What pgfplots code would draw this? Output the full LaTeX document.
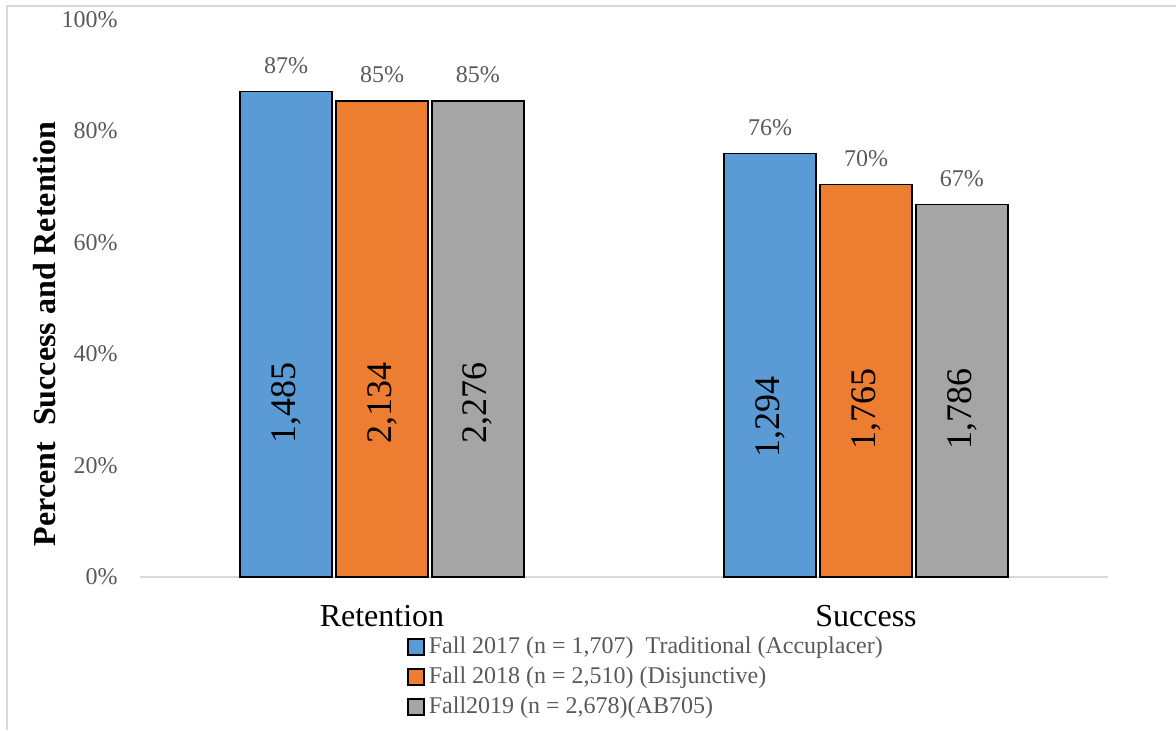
\documentclass[border=0pt]{standalone}
\usepackage{fontspec}
\setmainfont{Liberation Serif}
\usepackage{pgfplots}
\pgfplotsset{compat=1.18}
\definecolor{cblue}{HTML}{5B9BD5}
\definecolor{corange}{HTML}{ED7D31}
\definecolor{cgray}{HTML}{A5A5A5}
\definecolor{txtgray}{HTML}{595959}
\definecolor{linegray}{HTML}{D9D9D9}
\begin{document}
\begin{tikzpicture}
\path[use as bounding box] (0,0) rectangle (588pt,365pt);
\draw[linegray, line width=1pt] (3.3pt,0) -- (3.3pt,362pt) -- (588pt,362pt);
\begin{axis}[
  at={(70pt,76.5pt)}, anchor=south west,
  scale only axis, width=484pt, height=278.75pt,
  xmin=-0.5, xmax=1.5, ymin=0, ymax=100,
  axis x line=bottom, axis y line=left,
  x axis line style={linegray, line width=1pt, -},
  y axis line style={draw=none},
  xtick={0,1}, xticklabels={Retention,Success},
  ytick={0,20,40,60,80,100}, yticklabels={0\%,20\%,40\%,60\%,80\%,100\%},
  major tick length=0pt,
  yticklabel style={font=\fontsize{12}{12}\selectfont, text=txtgray, inner sep=0pt, anchor=east, xshift=-11pt},
  xticklabel style={font=\fontsize{16}{16}\selectfont, inner sep=0pt, anchor=north, yshift=-14pt},
  ylabel={Percent\ \ Success and Retention},
  ylabel style={font=\bfseries\fontsize{16}{16}\selectfont, at={(axis description cs:-0.0987,0.436)}, anchor=center},
  ybar, bar width=0.19,
  legend image code/.code={\draw[#1, line width=0.75pt] (0pt,-4pt) rectangle (8pt,4pt);},
  legend style={at={(axis description cs:0.2758,-0.1045)}, anchor=north west, draw=none, fill=none,
    font=\fontsize{12}{12}\selectfont, text=txtgray, inner sep=0pt, row sep=3.5pt, column sep=2pt,
    nodes={inner sep=0pt, text height=9pt, text depth=2.5pt}},
  legend cell align=left,
  clip=false,
  every node near coord/.append style={font=\fontsize{12}{12}\selectfont, text=txtgray, inner sep=0pt, anchor=south, yshift=8.5pt},
]
\addplot[fill=cblue, draw=black, line width=0.75pt, bar shift=-0.198, nodes near coords, point meta=explicit symbolic]
  coordinates {(0,87.1) [87\%] (1,76.0) [76\%]};
\addlegendentry{Fall 2017 (n = 1,707)\ \ Traditional (Accuplacer)}
\addplot[fill=corange, draw=black, line width=0.75pt, bar shift=0, nodes near coords, point meta=explicit symbolic]
  coordinates {(0,85.4) [85\%] (1,70.4) [70\%]};
\addlegendentry{Fall 2018 (n = 2,510) (Disjunctive)}
\addplot[fill=cgray, draw=black, line width=0.75pt, bar shift=0.198, nodes near coords, point meta=explicit symbolic]
  coordinates {(0,85.4) [85\%] (1,66.8) [67\%]};
\addlegendentry{Fall2019 (n = 2,678)(AB705)}
% count labels inside the bars
\addplot[draw=none, fill=none, forget plot, bar shift=-0.198, nodes near coords, point meta=explicit symbolic,
  every node near coord/.append style={font=\fontsize{18}{18}\selectfont, text=black, anchor=center, yshift=-8.5pt, rotate=90}]
  coordinates {(0,31.2) [{1,485}] (1,28.7) [{1,294}]};
\addplot[draw=none, fill=none, forget plot, bar shift=0, nodes near coords, point meta=explicit symbolic,
  every node near coord/.append style={font=\fontsize{18}{18}\selectfont, text=black, anchor=center, yshift=-8.5pt, rotate=90}]
  coordinates {(0,31.2) [{2,134}] (1,30.1) [{1,765}]};
\addplot[draw=none, fill=none, forget plot, bar shift=0.198, nodes near coords, point meta=explicit symbolic,
  every node near coord/.append style={font=\fontsize{18}{18}\selectfont, text=black, anchor=center, yshift=-8.5pt, rotate=90}]
  coordinates {(0,31.2) [{2,276}] (1,30.1) [{1,786}]};
\end{axis}
\end{tikzpicture}
\end{document}
